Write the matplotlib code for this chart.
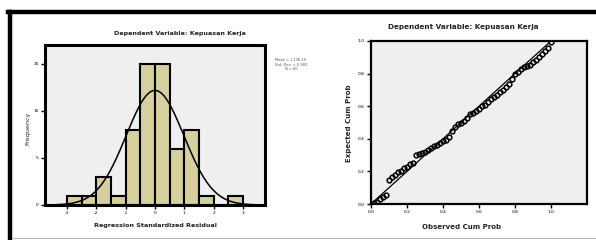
import numpy as np
import matplotlib
matplotlib.use("Agg")
import matplotlib.pyplot as plt
from matplotlib.lines import Line2D

# ---- data ----
bin_edges = [-3.0, -2.5, -2.0, -1.5, -1.0, -0.5, 0.0, 0.5, 1.0, 1.5, 2.0, 2.5, 3.0]
bin_counts = [1, 1, 3, 1, 8, 15, 15, 6, 8, 1, 0, 1]
hist_xticks = [-3, -2, -1, 0, 1, 2, 3]
hist_yticks = [0, 5, 10, 15]
res_mean = 0.0
res_std = 0.983
res_n = 60
stats_text = ["Mean = 1.13E-15", "Std. Dev. = 0.983", "N = 60"]

observed_cum = [0.017, 0.033, 0.050, 0.067, 0.083, 0.100, 0.117, 0.133, 0.150, 0.167,
                0.183, 0.200, 0.217, 0.233, 0.250, 0.267, 0.283, 0.300, 0.317, 0.333,
                0.350, 0.367, 0.383, 0.400, 0.417, 0.433, 0.450, 0.467, 0.483, 0.500,
                0.517, 0.533, 0.550, 0.567, 0.583, 0.600, 0.617, 0.633, 0.650, 0.667,
                0.683, 0.700, 0.717, 0.733, 0.750, 0.767, 0.783, 0.800, 0.817, 0.833,
                0.850, 0.867, 0.883, 0.900, 0.917, 0.933, 0.950, 0.967, 0.983, 1.000]
expected_cum = [0.005, 0.015, 0.030, 0.045, 0.055, 0.150, 0.165, 0.180, 0.195, 0.205,
                0.220, 0.230, 0.245, 0.250, 0.300, 0.305, 0.310, 0.320, 0.330, 0.345,
                0.355, 0.365, 0.375, 0.385, 0.395, 0.410, 0.445, 0.475, 0.490, 0.500,
                0.510, 0.530, 0.550, 0.560, 0.570, 0.580, 0.600, 0.610, 0.625, 0.645,
                0.655, 0.670, 0.690, 0.700, 0.715, 0.735, 0.765, 0.795, 0.810, 0.830,
                0.840, 0.845, 0.855, 0.870, 0.885, 0.900, 0.920, 0.940, 0.960, 0.995]
pp_ticks = [0.0, 0.2, 0.4, 0.6, 0.8, 1.0]
pp_ticklabels = ["0.0", "0.2", "0.4", "0.6", "0.8", "1.0"]

title_text = "Dependent Variable: Kepuasan Kerja"

# ---- figure ----
W, H = 596, 240
fig = plt.figure(figsize=(W / 100, H / 100), dpi=100)
fig.patch.set_facecolor("white")

def fx(px):
    return px / W

def fy(py):
    return 1 - py / H

bar_color = "#D6CF9E"
bg = "#EFEFEF"

# Histogram
ax1 = fig.add_axes([fx(45), fy(205), fx(265) - fx(45), fy(45) - fy(205)])
ax1.set_facecolor(bg)
widths = np.diff(bin_edges)
ax1.bar(bin_edges[:-1], bin_counts, width=widths, align="edge",
        color=bar_color, edgecolor="black", linewidth=1.5, zorder=2)
xs = np.linspace(-3.75, 3.75, 300)
scale = res_n * 0.5
ys = scale / (res_std * np.sqrt(2 * np.pi)) * np.exp(-0.5 * ((xs - res_mean) / res_std) ** 2)
ax1.plot(xs, ys, color="black", linewidth=1.1, zorder=3)
ax1.set_xlim(-3.75, 3.75)
ax1.set_ylim(0, 17)
ax1.set_xticks(hist_xticks)
ax1.set_xticklabels([str(t) for t in hist_xticks])
ax1.set_yticks(hist_yticks)
ax1.set_yticklabels([str(t) for t in hist_yticks])
for s in ax1.spines.values():
    s.set_linewidth(2.2)
ax1.tick_params(axis="both", labelsize=3.2, length=3, width=1.0, pad=1.5, colors="black")

# P-P plot
ax2 = fig.add_axes([fx(371), fy(204), fx(587) - fx(371), fy(41) - fy(204)])
ax2.set_facecolor(bg)
ax2.plot([0, 1], [0, 1], color="black", linewidth=0.9, zorder=2)
ax2.plot(observed_cum, expected_cum, linestyle="none", marker="o", markersize=3.4,
         markerfacecolor="none", markeredgecolor="black", markeredgewidth=1.1, zorder=3)
ax2.set_xlim(0, 1.2)
ax2.set_ylim(0, 1.0)
ax2.set_xticks(pp_ticks)
ax2.set_xticklabels(pp_ticklabels)
ax2.set_yticks(pp_ticks)
ax2.set_yticklabels(pp_ticklabels)
for s in ax2.spines.values():
    s.set_linewidth(1.6)
ax2.tick_params(axis="both", labelsize=3.2, length=3, width=1.0, pad=1.5, colors="black")

# titles and labels
fig.text(fx(180), fy(33), title_text, ha="center", va="center", fontsize=4.6,
         fontweight="bold", color="#222222")
fig.text(fx(463), fy(27), title_text, ha="center", va="center", fontsize=5.2,
         fontweight="bold", color="#222222")
fig.text(fx(155), fy(226), "Regression Standardized Residual", ha="center", va="center",
         fontsize=4.6, fontweight="bold", color="#222222")
fig.text(fx(462), fy(227), "Observed Cum Prob", ha="center", va="center",
         fontsize=5.0, fontweight="bold", color="#222222")
fig.text(fx(28), fy(128), "Frequency", ha="center", va="center", rotation=90,
         fontsize=4.6, color="#222222")
fig.text(fx(349), fy(123), "Expected Cum Prob", ha="center", va="center", rotation=90,
         fontsize=5.0, fontweight="bold", color="#222222")

# stats legend
for i, line in enumerate(stats_text):
    fig.text(fx(291), fy(60 + i * 4.5), line, ha="center", va="center",
             fontsize=2.6, color="#555555")

# partial caption text at the top (cut off by the image edge, as in the reference)
fig.text(fx(214), fy(-5), "g", ha="center", va="baseline", fontsize=14,
         family="DejaVu Serif", color="black")

# frame border
fig.add_artist(Line2D([fx(8), 1.0], [fy(12), fy(12)], transform=fig.transFigure,
                      color="black", linewidth=3.2))
fig.add_artist(Line2D([fx(10), fx(10)], [fy(12), 0.0], transform=fig.transFigure,
                      color="black", linewidth=3.2))
fig.add_artist(Line2D([fx(12), 1.0], [fy(238), fy(238)], transform=fig.transFigure,
                      color="#BBBBBB", linewidth=0.8))

fig.savefig("out.png", dpi=100)
